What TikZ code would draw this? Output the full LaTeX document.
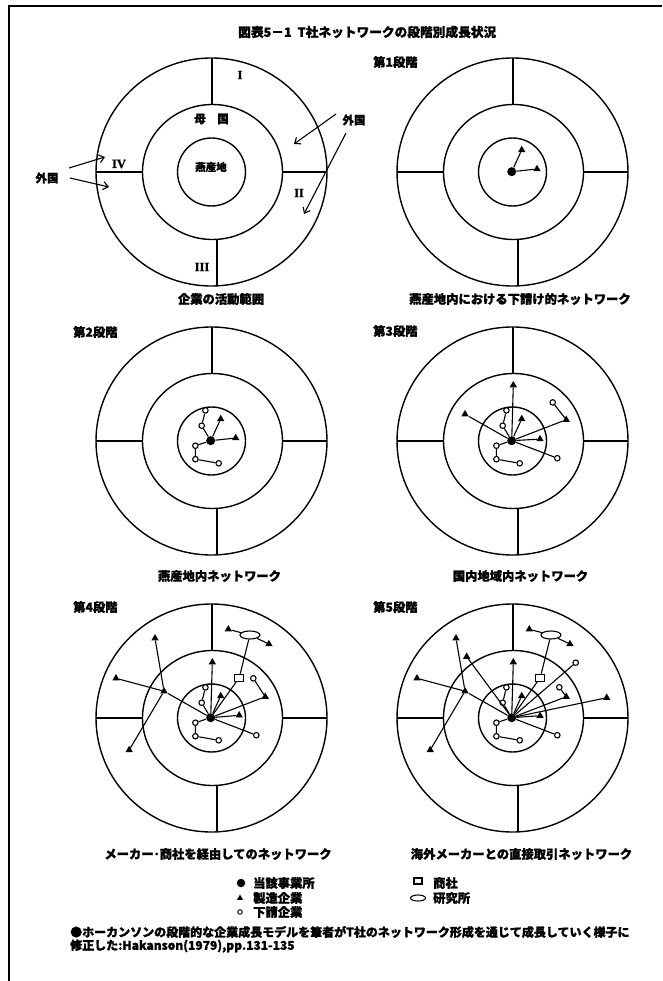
\documentclass[tikz,border=0pt]{standalone}
\usepackage{fontspec}
\setmainfont{Noto Sans CJK JP}[BoldFeatures={FakeBold=1.2}]
\newfontfamily\romfont{Liberation Serif}[BoldFeatures={FakeBold=1}]
\usetikzlibrary{shapes.geometric,arrows.meta}
\newcommand\drawrings[2]{%
  \draw[ring] (#1,#2) ellipse [x radius=115.5,y radius=114];
  \draw[ring] (#1+1,#2) ellipse [x radius=70,y radius=67.5];
  \draw[ring] (#1,#2) circle [radius=34];
  \draw[ring] (#1+0.5,#2-114) -- (#1+0.5,#2-67.5);
  \draw[ring] (#1+5.5,#2+67.4) -- (#1+5.5,#2+113.9);
  \draw[ring] (#1-115.5,#2) -- (#1-69,#2);
  \draw[ring] (#1+71,#2) -- (#1+115.5,#2);
}
\newcommand\innernet[2]{%
  \node[dotn] (d) at (0,0) {};
  \node[trin] (t1) at (10,-21.7) {};
  \node[trin] (t2) at (#1,#2) {};
  \node[subn] (c1) at (-5.3,-30.3) {};
  \node[subn] (c2) at (-9,-15) {};
  \node[subn] (c3) at (-15.3,5) {};
  \node[subn] (c4) at (-15.3,18.5) {};
  \node[subn] (c5) at (8,22.6) {};
  \draw[link] (d)--(t1) (d)--(t2) (d)--(c2)--(c1) (d)--(c3)--(c4)--(c5);
}
\newcommand\regionnet[1]{%
  \node[trin] (t3) at (1.6,-55.5) {};
  \node[trin] (t4) at (-46.7,-26.5) {};
  \node[trin] (t5) at (54.5,-21) {};
  \node[subn] (c6) at (#1) {};
  \node[subn] (c7) at (45.6,17.5) {};
  \draw[link] (d)--(t3) (d)--(t4) (d)--(t5)--(c6) (d)--(c7);
}
\newcommand\makernet{%
  \node[trin] (t6) at (-55.7,-79.4) {};
  \node[trin] (t7) at (-94.7,-39.4) {};
  \node[trin] (t8) at (-81.5,32.3) {};
  \node[sqn] (sq) at (28.5,-40) {};
  \node[eln] (el) at (39.2,-82.7) {};
  \node[trin] (t9) at (17.6,-88.4) {};
  \node[trin] (t10) at (58.2,-73.7) {};
  \draw[link] (t4)--(t6) (t4)--(t7) (t4)--(t8) (d)--(sq)--(el) (t9)--(el)--(t10);
}
\begin{document}
\begin{tikzpicture}[x=1pt,y=-1pt,
  ring/.style={line width=1.4pt},
  dotn/.style={circle,fill,inner sep=0pt,minimum size=9pt},
  trin/.style={regular polygon,regular polygon sides=3,fill,inner sep=0pt,minimum size=8.5pt},
  subn/.style={circle,draw,fill=white,inner sep=0pt,minimum size=5.5pt,line width=1.1pt},
  sqn/.style={rectangle,draw,fill=white,inner sep=0pt,minimum width=9pt,minimum height=7pt,line width=1.1pt},
  eln/.style={ellipse,draw,fill=white,inner sep=0pt,minimum width=20pt,minimum height=8pt,line width=1.1pt},
  link/.style={line width=1.1pt},
  head/.style={font=\bfseries\fontsize{12.3}{14}\selectfont,inner sep=0pt},
  lab/.style={font=\bfseries\fontsize{11.5}{13}\selectfont,inner sep=0pt},
  small/.style={font=\bfseries\fontsize{10.5}{12}\selectfont,inner sep=0pt},
  rom/.style={font=\romfont\bfseries\fontsize{12.5}{14}\selectfont,inner sep=0pt},
  foot/.style={font=\bfseries\fontsize{12}{14}\selectfont,inner sep=0pt,anchor=west},
  arr/.style={line width=1.1pt,-{Straight Barb[length=5pt,width=8pt]}}
]
\useasboundingbox (0,0) rectangle (662,981);
\draw[line width=2pt] (662,6) -- (9,6) -- (9,981);

\node[head,anchor=west,font=\bfseries\fontsize{12.7}{14}\selectfont] (title) at (238,32) {図表5－1\ \ T社ネットワークの段階別成長状況};

% rings
\drawrings{211.5}{172}
\drawrings{512.5}{172}
\drawrings{211.5}{441}
\drawrings{512.5}{441}
\drawrings{211.5}{718}
\drawrings{512.5}{718}

% diagram 0 labels
\node[rom] (rI) at (240,75) {I};
\node[rom] (rII) at (299,193) {II};
\node[rom] (rIII) at (202,267) {III};
\node[rom] (rIV) at (119,164) {IV};
\node[lab] (bokoku) at (211.5,119) {母　国};
\node[small] (tsubame) at (211,167) {燕産地};
\node[lab] (gaiL) at (47,178) {外国};
\node[lab] (gaiR) at (354,120) {外国};
\coordinate (a1s) at (69,168); \coordinate (a1e) at (105,157);
\coordinate (a2s) at (70,178); \coordinate (a2e) at (109,187);
\coordinate (a3s) at (336,114); \coordinate (a3e) at (294,144);
\coordinate (a4s) at (346,133); \coordinate (a4e) at (304,214);
\draw[arr] (a1s) -- (a1e);
\draw[arr] (a2s) -- (a2e);
\draw[arr] (a3s) -- (a3e);
\draw[arr] (a4s) -- (a4e);
\node[head] (cap0) at (221,299) {企業の活動範囲};

% stage 1
\node[head,anchor=west] (st1) at (373,62) {第1段階};
\begin{scope}[shift={(511.7,171.7)},name prefix=s1-]
  \node[dotn] (d) at (0,0) {};
  \node[trin] (t1) at (10,-21.7) {};
  \node[trin] (t2) at (25.3,-2.7) {};
  \draw[link] (d)--(t1) (d)--(t2);
\end{scope}
\node[head] (cap1) at (520,299) {燕産地内における下請け的ネットワーク};

% stage 2
\node[head,anchor=west] (st2) at (73,332) {第2段階};
\begin{scope}[shift={(210.7,440.7)},name prefix=s2-]
  \innernet{25}{-2.7}
\end{scope}
\node[head] (cap2) at (219.5,576) {燕産地内ネットワーク};

% stage 3
\node[head,anchor=west] (st3) at (373,331) {第3段階};
\begin{scope}[shift={(511.7,440.7)},name prefix=s3-]
  \innernet{28.3}{-1.6}
  \regionnet{41,-38.3}
\end{scope}
\node[head] (cap3) at (520.5,576) {国内地域内ネットワーク};

% stage 4
\node[head,anchor=west] (st4) at (73,607) {第4段階};
\begin{scope}[shift={(210.7,717.7)},name prefix=s4-]
  \innernet{28.5}{-2.4}
  \regionnet{42.6,-39.4}
  \makernet
\end{scope}
\node[head] (cap4) at (218,854) {メーカー･商社を経由してのネットワーク};

% stage 5
\node[head,anchor=west] (st5) at (373,607) {第5段階};
\begin{scope}[shift={(511.7,717.7)},name prefix=s5-]
  \innernet{28.3}{-2}
  \regionnet{47.6,-30.4}
  \makernet
  \node[trin] (t11) at (-45,-61) {};
  \node[subn] (c8) at (64,-55) {};
  \node[trin] (t12) at (95,-20) {};
  \draw[link] (d)--(t11) (d)--(c8) (d)--(t12);
\end{scope}
\node[head] (cap5) at (521.5,854) {海外メーカーとの直接取引ネットワーク};

% legend
\node[circle,fill,inner sep=0pt,minimum size=8.5pt] (lgdot) at (241,883) {};
\node[head,anchor=west] (lgdott) at (253,883) {当該事業所};
\node[regular polygon,regular polygon sides=3,fill,inner sep=0pt,minimum size=7pt] (lgtri) at (240,898) {};
\node[head,anchor=west] (lgtrit) at (253,898) {製造企業};
\node[circle,draw,line width=1pt,inner sep=0pt,minimum size=4.5pt] (lgsub) at (240,912) {};
\node[head,anchor=west] (lgsubt) at (253,912) {下請企業};
\node[rectangle,draw,line width=1.1pt,inner sep=0pt,minimum width=8pt,minimum height=6pt] (lgsq) at (418,881) {};
\node[head,anchor=west] (lgsqt) at (433,883) {商社};
\node[ellipse,draw,line width=1.1pt,inner sep=0pt,minimum width=15pt,minimum height=6pt] (lgel) at (418,898) {};
\node[head,anchor=west] (lgelt) at (433,898) {研究所};

% footnote
\node[foot] (fn1) at (70,932) {●ホーカンソンの段階的な企業成長モデルを筆者がT社のネットワーク形成を通じて成長していく様子に};
\node[foot] (fn2) at (70,946) {修正した:Hakanson(1979),pp.131-135};
\end{tikzpicture}
\end{document}
